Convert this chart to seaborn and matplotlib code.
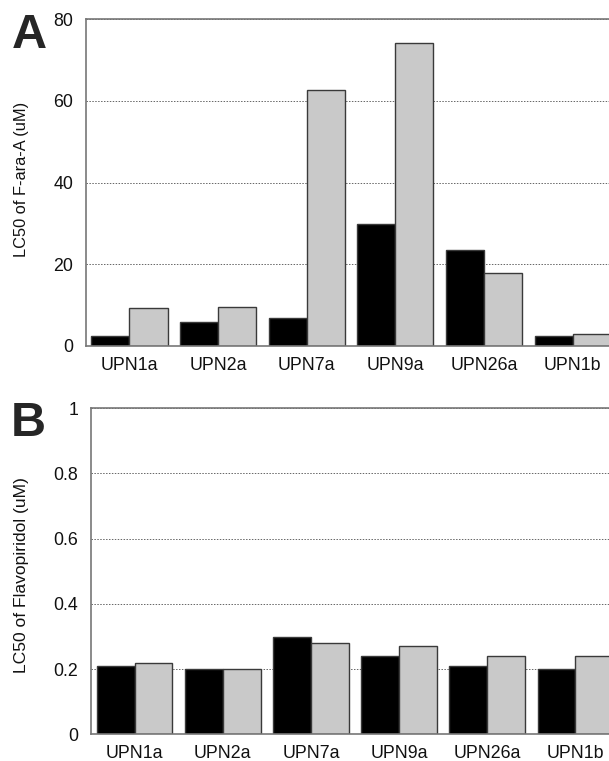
import matplotlib
matplotlib.use("Agg")
import matplotlib.pyplot as plt
import seaborn as sns
import pandas as pd

categories = ["UPN1a", "UPN2a", "UPN7a", "UPN9a", "UPN26a", "UPN1b"]
series_names = ["Series 1", "Series 2"]
fara_s1 = [2.4, 5.8, 6.8, 29.8, 23.5, 2.5]
fara_s2 = [9.2, 9.5, 62.6, 74.1, 17.9, 3.0]
flavo_s1 = [0.21, 0.20, 0.30, 0.24, 0.21, 0.20]
flavo_s2 = [0.22, 0.20, 0.28, 0.27, 0.24, 0.24]
yticks_a = [0, 20, 40, 60, 80]
yticks_b = [0, 0.2, 0.4, 0.6, 0.8, 1]
yticklabels_b = ["0", "0.2", "0.4", "0.6", "0.8", "1"]

sns.set_theme(style="white")
plt.rcParams["font.family"] = ["Liberation Sans", "DejaVu Sans"]

def make_df(s1, s2):
    return pd.DataFrame({
        "cat": categories * 2,
        "series": [series_names[0]] * len(categories) + [series_names[1]] * len(categories),
        "value": list(s1) + list(s2),
    })

palette = {series_names[0]: "#000000", series_names[1]: "#c9c9c9"}

fig = plt.figure(figsize=(6.09, 7.61), dpi=100)
ax_a = fig.add_axes([86 / 609, (761 - 346) / 761, 531 / 609, 327 / 761])
ax_b = fig.add_axes([90.5 / 609, (761 - 734.3) / 761, 529 / 609, 326 / 761])

def style(ax, df, yticks, yticklabels, ylim, xlim, ylabel, ylabel_size, label_y):
    sns.barplot(data=df, x="cat", y="value", hue="series", palette=palette,
                width=0.86, dodge=True, edgecolor="#3a3a3a", linewidth=1.0,
                legend=False, ax=ax, saturation=1)
    ax.set_ylim(*ylim)
    ax.set_xlim(*xlim)
    ax.set_yticks(yticks)
    ax.set_yticklabels(yticklabels)
    ax.set_xlabel("")
    ax.set_ylabel(ylabel, fontsize=ylabel_size, color="#111111")
    pos = ax.get_position()
    ax.yaxis.set_label_coords(-(pos.x0 * 609 - 29) / (pos.width * 609), label_y)
    ax.tick_params(axis="both", length=0, labelsize=12.8, colors="#111111")
    ax.tick_params(axis="y", pad=9)
    ax.tick_params(axis="x", pad=8)
    ax.yaxis.grid(True, linestyle=(0, (1.5, 1.5)), color="#666666", linewidth=0.7)
    ax.xaxis.grid(False)
    ax.set_axisbelow(True)
    for side in ["left", "top", "bottom", "right"]:
        ax.spines[side].set_visible(True)
        ax.spines[side].set_color("#777777")
        ax.spines[side].set_linewidth(1.2)

style(ax_a, make_df(fara_s1, fara_s2), yticks_a, [str(t) for t in yticks_a],
      (0, 80), (-0.49, 5.5), "LC50 of F-ara-A (uM)", 11.8, 0.508)
style(ax_b, make_df(flavo_s1, flavo_s2), yticks_b, yticklabels_b,
      (0, 1), (-0.5, 5.5), "LC50 of Flavopiridol (uM)", 12.6, 0.49)

fig.text(12 / 609, 1 - 48 / 761, "A", fontsize=35, fontweight="bold", ha="left", va="baseline")
fig.text(11 / 609, 1 - 436 / 761, "B", fontsize=35, fontweight="bold", ha="left", va="baseline")

fig.savefig("out.png", dpi=100)
